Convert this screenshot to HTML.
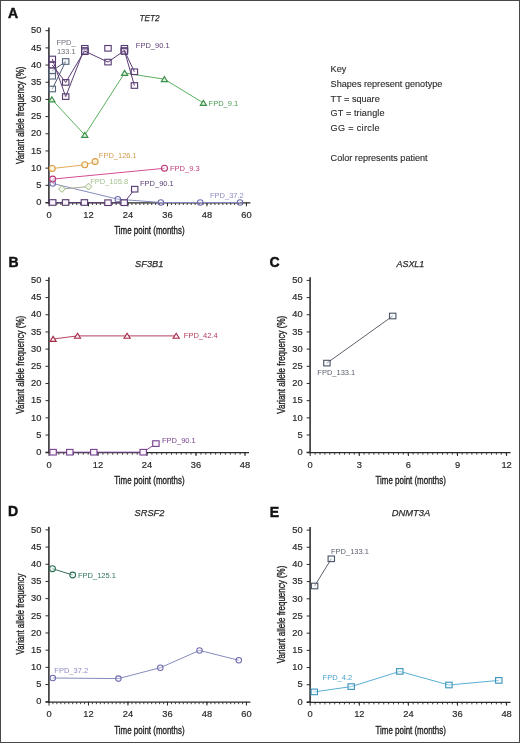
<!DOCTYPE html>
<html><head><meta charset="utf-8"><style>
html,body{margin:0;padding:0;background:#fff;}
body{width:520px;height:743px;overflow:hidden;position:relative;}
.frame{position:absolute;left:0;top:0;width:520px;height:743px;box-sizing:border-box;border-style:solid;border-color:#474747;border-width:1px;}
svg{position:absolute;left:0;top:0;will-change:transform;}
text{font-family:"Liberation Sans", sans-serif;}
.tk{font-size:9.3px;fill:#2a2a2a;stroke:#2a2a2a;stroke-width:0.2px;}
.at{font-size:10.6px;fill:#1e1e1e;stroke:#1e1e1e;stroke-width:0.35px;}
.ti{font-size:9.9px;font-style:italic;fill:#2a2a2a;stroke:#2a2a2a;stroke-width:0.25px;}
.pl{font-size:14px;font-weight:bold;fill:#111;stroke:#111;stroke-width:0.45px;}
.ky{font-size:9.1px;fill:#2a2a2a;stroke:#2a2a2a;stroke-width:0.12px;}
</style></head><body>
<svg width="520" height="743" viewBox="0 0 520 743">
<line x1="48.90" y1="27.50" x2="48.90" y2="203.50" stroke="#333" stroke-width="1.6"/>
<line x1="45.50" y1="202.90" x2="250.40" y2="202.90" stroke="#2b2b2b" stroke-width="1.3"/>
<line x1="45.50" y1="202.50" x2="49.00" y2="202.50" stroke="#2b2b2b" stroke-width="1"/>
<text x="41.40" y="205.20" text-anchor="end" class="tk">0</text>
<line x1="45.50" y1="185.32" x2="49.00" y2="185.32" stroke="#2b2b2b" stroke-width="1"/>
<text x="41.40" y="188.02" text-anchor="end" class="tk">5</text>
<line x1="45.50" y1="168.14" x2="49.00" y2="168.14" stroke="#2b2b2b" stroke-width="1"/>
<text x="41.40" y="170.84" text-anchor="end" class="tk">10</text>
<line x1="45.50" y1="150.96" x2="49.00" y2="150.96" stroke="#2b2b2b" stroke-width="1"/>
<text x="41.40" y="153.66" text-anchor="end" class="tk">15</text>
<line x1="45.50" y1="133.78" x2="49.00" y2="133.78" stroke="#2b2b2b" stroke-width="1"/>
<text x="41.40" y="136.48" text-anchor="end" class="tk">20</text>
<line x1="45.50" y1="116.60" x2="49.00" y2="116.60" stroke="#2b2b2b" stroke-width="1"/>
<text x="41.40" y="119.30" text-anchor="end" class="tk">25</text>
<line x1="45.50" y1="99.42" x2="49.00" y2="99.42" stroke="#2b2b2b" stroke-width="1"/>
<text x="41.40" y="102.12" text-anchor="end" class="tk">30</text>
<line x1="45.50" y1="82.24" x2="49.00" y2="82.24" stroke="#2b2b2b" stroke-width="1"/>
<text x="41.40" y="84.94" text-anchor="end" class="tk">35</text>
<line x1="45.50" y1="65.06" x2="49.00" y2="65.06" stroke="#2b2b2b" stroke-width="1"/>
<text x="41.40" y="67.76" text-anchor="end" class="tk">40</text>
<line x1="45.50" y1="47.88" x2="49.00" y2="47.88" stroke="#2b2b2b" stroke-width="1"/>
<text x="41.40" y="50.58" text-anchor="end" class="tk">45</text>
<line x1="45.50" y1="30.70" x2="49.00" y2="30.70" stroke="#2b2b2b" stroke-width="1"/>
<text x="41.40" y="33.40" text-anchor="end" class="tk">50</text>
<path d="M52.95 203.10v1.9 M56.90 203.10v1.9 M60.85 203.10v1.9 M64.80 203.10v1.9 M68.75 203.10v1.9 M72.70 203.10v1.9 M76.65 203.10v1.9 M80.60 203.10v1.9 M84.55 203.10v1.9 M88.50 203.10v1.9 M92.45 203.10v1.9 M96.40 203.10v1.9 M100.35 203.10v1.9 M104.30 203.10v1.9 M108.25 203.10v1.9 M112.20 203.10v1.9 M116.15 203.10v1.9 M120.10 203.10v1.9 M124.05 203.10v1.9 M128.00 203.10v1.9 M131.95 203.10v1.9 M135.90 203.10v1.9 M139.85 203.10v1.9 M143.80 203.10v1.9 M147.75 203.10v1.9 M151.70 203.10v1.9 M155.65 203.10v1.9 M159.60 203.10v1.9 M163.55 203.10v1.9 M167.50 203.10v1.9 M171.45 203.10v1.9 M175.40 203.10v1.9 M179.35 203.10v1.9 M183.30 203.10v1.9 M187.25 203.10v1.9 M191.20 203.10v1.9 M195.15 203.10v1.9 M199.10 203.10v1.9 M203.05 203.10v1.9 M207.00 203.10v1.9 M210.95 203.10v1.9 M214.90 203.10v1.9 M218.85 203.10v1.9 M222.80 203.10v1.9 M226.75 203.10v1.9 M230.70 203.10v1.9 M234.65 203.10v1.9 M238.60 203.10v1.9 M242.55 203.10v1.9 M246.50 203.10v1.9" stroke="#2b2b2b" stroke-width="0.9"/>
<line x1="49.00" y1="202.50" x2="49.00" y2="206.30" stroke="#2b2b2b" stroke-width="1"/>
<text x="49.00" y="218.00" text-anchor="middle" class="tk">0</text>
<line x1="88.48" y1="202.50" x2="88.48" y2="206.30" stroke="#2b2b2b" stroke-width="1"/>
<text x="88.48" y="218.00" text-anchor="middle" class="tk">12</text>
<line x1="127.96" y1="202.50" x2="127.96" y2="206.30" stroke="#2b2b2b" stroke-width="1"/>
<text x="127.96" y="218.00" text-anchor="middle" class="tk">24</text>
<line x1="167.44" y1="202.50" x2="167.44" y2="206.30" stroke="#2b2b2b" stroke-width="1"/>
<text x="167.44" y="218.00" text-anchor="middle" class="tk">36</text>
<line x1="206.92" y1="202.50" x2="206.92" y2="206.30" stroke="#2b2b2b" stroke-width="1"/>
<text x="206.92" y="218.00" text-anchor="middle" class="tk">48</text>
<line x1="246.40" y1="202.50" x2="246.40" y2="206.30" stroke="#2b2b2b" stroke-width="1"/>
<text x="246.40" y="218.00" text-anchor="middle" class="tk">60</text>
<text x="114.30" y="234.30" class="at" textLength="70.3" lengthAdjust="spacingAndGlyphs">Time point (months)</text>
<text transform="translate(23.80,115.25) rotate(-90)" x="0" y="0" text-anchor="middle" class="at" textLength="97.5" lengthAdjust="spacingAndGlyphs">Variant allele frequency (%)</text>
<text x="149.60" y="21.40" text-anchor="middle" class="ti" textLength="20" lengthAdjust="spacingAndGlyphs">TET2</text>
<text x="7.90" y="18.00" class="pl">A</text>
<polyline points="51.90,99.50 84.80,135.00 124.60,73.00 164.40,79.20 203.40,103.00" fill="none" stroke="#5aae5e" stroke-width="1"/>
<path d="M51.90 96.90L55.00 101.90L48.80 101.90Z" fill="#e2f5e4" stroke="#3a8e48" stroke-width="1.1"/>
<path d="M84.80 132.40L87.90 137.40L81.70 137.40Z" fill="#e2f5e4" stroke="#3a8e48" stroke-width="1.1"/>
<path d="M124.60 70.40L127.70 75.40L121.50 75.40Z" fill="#e2f5e4" stroke="#3a8e48" stroke-width="1.1"/>
<path d="M164.40 76.60L167.50 81.60L161.30 81.60Z" fill="#e2f5e4" stroke="#3a8e48" stroke-width="1.1"/>
<path d="M203.40 100.40L206.50 105.40L200.30 105.40Z" fill="#e2f5e4" stroke="#3a8e48" stroke-width="1.1"/>
<text x="208.60" y="105.50" fill="#4c9a55" font-size="7.5">FPD_9.1</text>
<polyline points="52.30,168.50 84.80,164.80 95.10,161.60" fill="none" stroke="#e3aa55" stroke-width="1"/>
<circle cx="52.30" cy="168.50" r="3.00" fill="#fcf3d9" fill-opacity="1" stroke="#d99a45" stroke-width="1.05"/>
<circle cx="84.80" cy="164.80" r="3.00" fill="#fcf3d9" fill-opacity="1" stroke="#d99a45" stroke-width="1.05"/>
<circle cx="95.10" cy="161.60" r="3.00" fill="#fcf3d9" fill-opacity="1" stroke="#d99a45" stroke-width="1.05"/>
<text x="98.80" y="158.10" fill="#d49a4c" font-size="7.5">FPD_126.1</text>
<polyline points="52.70,183.50 117.80,199.20 160.80,202.50 200.20,202.50 240.00,202.50" fill="none" stroke="#848bbd" stroke-width="1"/>
<polyline points="61.90,189.00 88.50,186.60" fill="none" stroke="#a8ab98" stroke-width="1"/>
<path d="M61.90 185.60L65.30 189.00L61.90 192.40L58.50 189.00Z" fill="#f4f8ee" stroke="#98b87c" stroke-width="1"/>
<path d="M88.50 183.20L91.90 186.60L88.50 190.00L85.10 186.60Z" fill="#f4f8ee" stroke="#98b87c" stroke-width="1"/>
<text x="90.20" y="183.60" fill="#a4bf8e" font-size="7.5">FPD_105.8</text>
<circle cx="52.70" cy="183.50" r="2.75" fill="#f1f1fb" fill-opacity="0.2" stroke="#6e6cae" stroke-width="1.05"/>
<circle cx="117.80" cy="199.20" r="2.75" fill="#f1f1fb" fill-opacity="0.2" stroke="#6e6cae" stroke-width="1.05"/>
<circle cx="160.80" cy="202.50" r="2.75" fill="#f1f1fb" fill-opacity="0.2" stroke="#6e6cae" stroke-width="1.05"/>
<circle cx="200.20" cy="202.50" r="2.75" fill="#f1f1fb" fill-opacity="0.2" stroke="#6e6cae" stroke-width="1.05"/>
<circle cx="240.00" cy="202.50" r="2.75" fill="#f1f1fb" fill-opacity="0.2" stroke="#6e6cae" stroke-width="1.05"/>
<polyline points="52.70,179.10 164.50,168.30" fill="none" stroke="#d24d92" stroke-width="1"/>
<circle cx="52.70" cy="179.10" r="3.00" fill="#fbe6f1" fill-opacity="0.45" stroke="#b73777" stroke-width="1.05"/>
<circle cx="164.50" cy="168.30" r="3.00" fill="#fbe6f1" fill-opacity="0.45" stroke="#b73777" stroke-width="1.05"/>
<text x="170.00" y="170.60" fill="#c23c7e" font-size="7.5">FPD_9.3</text>
<text x="210.00" y="197.60" fill="#8c8cc4" font-size="7.5">FPD_37.2</text>
<polyline points="52.30,70.80 65.70,61.50" fill="none" stroke="#4e5e72" stroke-width="1"/>
<polyline points="52.30,89.00 65.70,61.50" fill="none" stroke="#4e5e72" stroke-width="1"/>
<rect x="49.10" y="73.40" width="6.4" height="5.6" fill="#f0f3f8" fill-opacity="0.45" stroke="#55657a" stroke-width="1.1"/>
<rect x="49.10" y="68.00" width="6.4" height="5.6" fill="#f0f3f8" fill-opacity="0.45" stroke="#55657a" stroke-width="1.1"/>
<rect x="49.10" y="86.20" width="6.4" height="5.6" fill="#f0f3f8" fill-opacity="0.45" stroke="#55657a" stroke-width="1.1"/>
<rect x="62.50" y="58.70" width="6.4" height="5.6" fill="#f0f3f8" fill-opacity="0.45" stroke="#55657a" stroke-width="1.1"/>
<text x="56.50" y="44.80" fill="#6c6e78" font-size="7.5">FPD_</text>
<text x="56.90" y="53.80" fill="#6c6e78" font-size="7.5">133.1</text>
<rect x="49.10" y="62.20" width="6.4" height="5.6" fill="#f8f0fb" fill-opacity="0.45" stroke="#553b6f" stroke-width="1.1"/>
<rect x="49.10" y="56.20" width="6.4" height="5.6" fill="#f8f0fb" fill-opacity="0.45" stroke="#553b6f" stroke-width="1.1"/>
<rect x="62.50" y="93.80" width="6.4" height="5.6" fill="#f8f0fb" fill-opacity="0.45" stroke="#553b6f" stroke-width="1.1"/>
<rect x="62.50" y="79.60" width="6.4" height="5.6" fill="#f8f0fb" fill-opacity="0.45" stroke="#553b6f" stroke-width="1.1"/>
<rect x="81.60" y="45.50" width="6.4" height="5.6" fill="#f8f0fb" fill-opacity="0.45" stroke="#553b6f" stroke-width="1.1"/>
<rect x="81.60" y="47.70" width="6.4" height="5.6" fill="#f8f0fb" fill-opacity="0.45" stroke="#553b6f" stroke-width="1.1"/>
<rect x="81.60" y="48.90" width="6.4" height="5.6" fill="#f8f0fb" fill-opacity="0.45" stroke="#553b6f" stroke-width="1.1"/>
<rect x="104.80" y="45.50" width="6.4" height="5.6" fill="#f8f0fb" fill-opacity="0.45" stroke="#553b6f" stroke-width="1.1"/>
<rect x="104.80" y="59.30" width="6.4" height="5.6" fill="#f8f0fb" fill-opacity="0.45" stroke="#553b6f" stroke-width="1.1"/>
<rect x="121.20" y="45.50" width="6.4" height="5.6" fill="#f8f0fb" fill-opacity="0.45" stroke="#553b6f" stroke-width="1.1"/>
<rect x="121.20" y="47.70" width="6.4" height="5.6" fill="#f8f0fb" fill-opacity="0.45" stroke="#553b6f" stroke-width="1.1"/>
<rect x="121.20" y="48.70" width="6.4" height="5.6" fill="#f8f0fb" fill-opacity="0.45" stroke="#553b6f" stroke-width="1.1"/>
<rect x="131.20" y="68.95" width="6.4" height="5.6" fill="#f8f0fb" fill-opacity="0.45" stroke="#553b6f" stroke-width="1.1"/>
<rect x="131.20" y="82.70" width="6.4" height="5.6" fill="#f8f0fb" fill-opacity="0.45" stroke="#553b6f" stroke-width="1.1"/>
<polyline points="52.30,59.00 65.70,96.60 82.50,53.50" fill="none" stroke="#5a3d74" stroke-width="1"/>
<polyline points="52.30,65.00 65.70,82.40 84.50,51.00 108.00,62.10 124.40,50.50 134.40,85.50" fill="none" stroke="#5a3d74" stroke-width="1"/>
<polyline points="124.40,50.50 134.40,71.75" fill="none" stroke="#5a3d74" stroke-width="1"/>
<text x="135.80" y="48.00" fill="#5a3d74" font-size="7.5">FPD_90.1</text>
<polyline points="52.70,202.50 65.60,202.50 84.40,202.50 108.00,202.70 124.20,202.70 134.70,189.20" fill="none" stroke="#5a3d74" stroke-width="1"/>
<rect x="49.50" y="199.70" width="6.4" height="5.6" fill="#fbf5fd" fill-opacity="1" stroke="#553b6f" stroke-width="1.1"/>
<rect x="62.40" y="199.70" width="6.4" height="5.6" fill="#fbf5fd" fill-opacity="1" stroke="#553b6f" stroke-width="1.1"/>
<rect x="81.20" y="199.70" width="6.4" height="5.6" fill="#fbf5fd" fill-opacity="1" stroke="#553b6f" stroke-width="1.1"/>
<rect x="104.80" y="199.90" width="6.4" height="5.6" fill="#fbf5fd" fill-opacity="1" stroke="#553b6f" stroke-width="1.1"/>
<rect x="121.00" y="199.90" width="6.4" height="5.6" fill="#fbf5fd" fill-opacity="1" stroke="#553b6f" stroke-width="1.1"/>
<rect x="131.50" y="186.40" width="6.4" height="5.6" fill="#fbf5fd" fill-opacity="1" stroke="#553b6f" stroke-width="1.1"/>
<text x="140.00" y="186.20" fill="#5a3d74" font-size="7.5">FPD_90.1</text>
<line x1="48.90" y1="277.20" x2="48.90" y2="453.20" stroke="#333" stroke-width="1.6"/>
<line x1="45.50" y1="452.60" x2="249.00" y2="452.60" stroke="#2b2b2b" stroke-width="1.3"/>
<line x1="45.50" y1="452.20" x2="49.00" y2="452.20" stroke="#2b2b2b" stroke-width="1"/>
<text x="41.40" y="454.90" text-anchor="end" class="tk">0</text>
<line x1="45.50" y1="435.02" x2="49.00" y2="435.02" stroke="#2b2b2b" stroke-width="1"/>
<text x="41.40" y="437.72" text-anchor="end" class="tk">5</text>
<line x1="45.50" y1="417.84" x2="49.00" y2="417.84" stroke="#2b2b2b" stroke-width="1"/>
<text x="41.40" y="420.54" text-anchor="end" class="tk">10</text>
<line x1="45.50" y1="400.66" x2="49.00" y2="400.66" stroke="#2b2b2b" stroke-width="1"/>
<text x="41.40" y="403.36" text-anchor="end" class="tk">15</text>
<line x1="45.50" y1="383.48" x2="49.00" y2="383.48" stroke="#2b2b2b" stroke-width="1"/>
<text x="41.40" y="386.18" text-anchor="end" class="tk">20</text>
<line x1="45.50" y1="366.30" x2="49.00" y2="366.30" stroke="#2b2b2b" stroke-width="1"/>
<text x="41.40" y="369.00" text-anchor="end" class="tk">25</text>
<line x1="45.50" y1="349.12" x2="49.00" y2="349.12" stroke="#2b2b2b" stroke-width="1"/>
<text x="41.40" y="351.82" text-anchor="end" class="tk">30</text>
<line x1="45.50" y1="331.94" x2="49.00" y2="331.94" stroke="#2b2b2b" stroke-width="1"/>
<text x="41.40" y="334.64" text-anchor="end" class="tk">35</text>
<line x1="45.50" y1="314.76" x2="49.00" y2="314.76" stroke="#2b2b2b" stroke-width="1"/>
<text x="41.40" y="317.46" text-anchor="end" class="tk">40</text>
<line x1="45.50" y1="297.58" x2="49.00" y2="297.58" stroke="#2b2b2b" stroke-width="1"/>
<text x="41.40" y="300.28" text-anchor="end" class="tk">45</text>
<line x1="45.50" y1="280.40" x2="49.00" y2="280.40" stroke="#2b2b2b" stroke-width="1"/>
<text x="41.40" y="283.10" text-anchor="end" class="tk">50</text>
<path d="M53.90 452.80v1.9 M58.80 452.80v1.9 M63.70 452.80v1.9 M68.60 452.80v1.9 M73.50 452.80v1.9 M78.40 452.80v1.9 M83.30 452.80v1.9 M88.20 452.80v1.9 M93.10 452.80v1.9 M98.00 452.80v1.9 M102.90 452.80v1.9 M107.80 452.80v1.9 M112.70 452.80v1.9 M117.60 452.80v1.9 M122.50 452.80v1.9 M127.40 452.80v1.9 M132.30 452.80v1.9 M137.20 452.80v1.9 M142.10 452.80v1.9 M147.00 452.80v1.9 M151.90 452.80v1.9 M156.80 452.80v1.9 M161.70 452.80v1.9 M166.60 452.80v1.9 M171.50 452.80v1.9 M176.40 452.80v1.9 M181.30 452.80v1.9 M186.20 452.80v1.9 M191.10 452.80v1.9 M196.00 452.80v1.9 M200.90 452.80v1.9 M205.80 452.80v1.9 M210.70 452.80v1.9 M215.60 452.80v1.9 M220.50 452.80v1.9 M225.40 452.80v1.9 M230.30 452.80v1.9 M235.20 452.80v1.9 M240.10 452.80v1.9 M245.00 452.80v1.9" stroke="#2b2b2b" stroke-width="0.9"/>
<line x1="49.00" y1="452.20" x2="49.00" y2="456.00" stroke="#2b2b2b" stroke-width="1"/>
<text x="49.00" y="467.70" text-anchor="middle" class="tk">0</text>
<line x1="98.00" y1="452.20" x2="98.00" y2="456.00" stroke="#2b2b2b" stroke-width="1"/>
<text x="98.00" y="467.70" text-anchor="middle" class="tk">12</text>
<line x1="147.00" y1="452.20" x2="147.00" y2="456.00" stroke="#2b2b2b" stroke-width="1"/>
<text x="147.00" y="467.70" text-anchor="middle" class="tk">24</text>
<line x1="196.00" y1="452.20" x2="196.00" y2="456.00" stroke="#2b2b2b" stroke-width="1"/>
<text x="196.00" y="467.70" text-anchor="middle" class="tk">36</text>
<line x1="245.00" y1="452.20" x2="245.00" y2="456.00" stroke="#2b2b2b" stroke-width="1"/>
<text x="245.00" y="467.70" text-anchor="middle" class="tk">48</text>
<text x="114.30" y="484.00" class="at" textLength="70.3" lengthAdjust="spacingAndGlyphs">Time point (months)</text>
<text transform="translate(23.90,364.80) rotate(-90)" x="0" y="0" text-anchor="middle" class="at" textLength="98.1" lengthAdjust="spacingAndGlyphs">Variant allele frequency (%)</text>
<text x="149.30" y="267.00" text-anchor="middle" class="ti" textLength="28.4" lengthAdjust="spacingAndGlyphs">SF3B1</text>
<text x="8.40" y="266.80" class="pl">B</text>
<polyline points="53.10,339.00 77.50,335.90 127.10,335.90 176.20,335.90" fill="none" stroke="#b54060" stroke-width="1"/>
<path d="M53.10 336.40L56.20 341.40L50.00 341.40Z" fill="#fdeef2" stroke="#a52a48" stroke-width="1.1"/>
<path d="M77.50 333.30L80.60 338.30L74.40 338.30Z" fill="#fdeef2" stroke="#a52a48" stroke-width="1.1"/>
<path d="M127.10 333.30L130.20 338.30L124.00 338.30Z" fill="#fdeef2" stroke="#a52a48" stroke-width="1.1"/>
<path d="M176.20 333.30L179.30 338.30L173.10 338.30Z" fill="#fdeef2" stroke="#a52a48" stroke-width="1.1"/>
<text x="183.80" y="338.30" fill="#b33a58" font-size="7.5">FPD_42.4</text>
<polyline points="53.10,452.20 69.80,452.20 93.80,452.20 143.20,452.20 155.90,443.60" fill="none" stroke="#7a468e" stroke-width="1"/>
<rect x="49.90" y="449.40" width="6.4" height="5.6" fill="#fbf4fc" fill-opacity="1" stroke="#74408a" stroke-width="1.1"/>
<rect x="66.60" y="449.40" width="6.4" height="5.6" fill="#fbf4fc" fill-opacity="1" stroke="#74408a" stroke-width="1.1"/>
<rect x="90.60" y="449.40" width="6.4" height="5.6" fill="#fbf4fc" fill-opacity="1" stroke="#74408a" stroke-width="1.1"/>
<rect x="140.00" y="449.40" width="6.4" height="5.6" fill="#fbf4fc" fill-opacity="1" stroke="#74408a" stroke-width="1.1"/>
<rect x="152.70" y="440.80" width="6.4" height="5.6" fill="#fbf4fc" fill-opacity="1" stroke="#74408a" stroke-width="1.1"/>
<text x="162.00" y="443.40" fill="#7a4490" font-size="7.5">FPD_90.1</text>
<line x1="310.10" y1="277.20" x2="310.10" y2="453.20" stroke="#333" stroke-width="1.6"/>
<line x1="306.70" y1="452.60" x2="510.60" y2="452.60" stroke="#2b2b2b" stroke-width="1.3"/>
<line x1="306.70" y1="452.20" x2="310.20" y2="452.20" stroke="#2b2b2b" stroke-width="1"/>
<text x="302.60" y="454.90" text-anchor="end" class="tk">0</text>
<line x1="306.70" y1="435.02" x2="310.20" y2="435.02" stroke="#2b2b2b" stroke-width="1"/>
<text x="302.60" y="437.72" text-anchor="end" class="tk">5</text>
<line x1="306.70" y1="417.84" x2="310.20" y2="417.84" stroke="#2b2b2b" stroke-width="1"/>
<text x="302.60" y="420.54" text-anchor="end" class="tk">10</text>
<line x1="306.70" y1="400.66" x2="310.20" y2="400.66" stroke="#2b2b2b" stroke-width="1"/>
<text x="302.60" y="403.36" text-anchor="end" class="tk">15</text>
<line x1="306.70" y1="383.48" x2="310.20" y2="383.48" stroke="#2b2b2b" stroke-width="1"/>
<text x="302.60" y="386.18" text-anchor="end" class="tk">20</text>
<line x1="306.70" y1="366.30" x2="310.20" y2="366.30" stroke="#2b2b2b" stroke-width="1"/>
<text x="302.60" y="369.00" text-anchor="end" class="tk">25</text>
<line x1="306.70" y1="349.12" x2="310.20" y2="349.12" stroke="#2b2b2b" stroke-width="1"/>
<text x="302.60" y="351.82" text-anchor="end" class="tk">30</text>
<line x1="306.70" y1="331.94" x2="310.20" y2="331.94" stroke="#2b2b2b" stroke-width="1"/>
<text x="302.60" y="334.64" text-anchor="end" class="tk">35</text>
<line x1="306.70" y1="314.76" x2="310.20" y2="314.76" stroke="#2b2b2b" stroke-width="1"/>
<text x="302.60" y="317.46" text-anchor="end" class="tk">40</text>
<line x1="306.70" y1="297.58" x2="310.20" y2="297.58" stroke="#2b2b2b" stroke-width="1"/>
<text x="302.60" y="300.28" text-anchor="end" class="tk">45</text>
<line x1="306.70" y1="280.40" x2="310.20" y2="280.40" stroke="#2b2b2b" stroke-width="1"/>
<text x="302.60" y="283.10" text-anchor="end" class="tk">50</text>
<path d="M315.10 452.80v1.9 M320.00 452.80v1.9 M324.90 452.80v1.9 M329.80 452.80v1.9 M334.70 452.80v1.9 M339.60 452.80v1.9 M344.50 452.80v1.9 M349.40 452.80v1.9 M354.30 452.80v1.9 M359.20 452.80v1.9 M364.10 452.80v1.9 M369.00 452.80v1.9 M373.90 452.80v1.9 M378.80 452.80v1.9 M383.70 452.80v1.9 M388.60 452.80v1.9 M393.50 452.80v1.9 M398.40 452.80v1.9 M403.30 452.80v1.9 M408.20 452.80v1.9 M413.10 452.80v1.9 M418.00 452.80v1.9 M422.90 452.80v1.9 M427.80 452.80v1.9 M432.70 452.80v1.9 M437.60 452.80v1.9 M442.50 452.80v1.9 M447.40 452.80v1.9 M452.30 452.80v1.9 M457.20 452.80v1.9 M462.10 452.80v1.9 M467.00 452.80v1.9 M471.90 452.80v1.9 M476.80 452.80v1.9 M481.70 452.80v1.9 M486.60 452.80v1.9 M491.50 452.80v1.9 M496.40 452.80v1.9 M501.30 452.80v1.9 M506.20 452.80v1.9" stroke="#2b2b2b" stroke-width="0.9"/>
<line x1="310.20" y1="452.20" x2="310.20" y2="456.00" stroke="#2b2b2b" stroke-width="1"/>
<text x="310.20" y="467.70" text-anchor="middle" class="tk">0</text>
<line x1="359.30" y1="452.20" x2="359.30" y2="456.00" stroke="#2b2b2b" stroke-width="1"/>
<text x="359.30" y="467.70" text-anchor="middle" class="tk">3</text>
<line x1="408.40" y1="452.20" x2="408.40" y2="456.00" stroke="#2b2b2b" stroke-width="1"/>
<text x="408.40" y="467.70" text-anchor="middle" class="tk">6</text>
<line x1="457.50" y1="452.20" x2="457.50" y2="456.00" stroke="#2b2b2b" stroke-width="1"/>
<text x="457.50" y="467.70" text-anchor="middle" class="tk">9</text>
<line x1="506.60" y1="452.20" x2="506.60" y2="456.00" stroke="#2b2b2b" stroke-width="1"/>
<text x="506.60" y="467.70" text-anchor="middle" class="tk">12</text>
<text x="375.50" y="484.00" class="at" textLength="70.3" lengthAdjust="spacingAndGlyphs">Time point (months)</text>
<text transform="translate(285.00,364.80) rotate(-90)" x="0" y="0" text-anchor="middle" class="at" textLength="98.0" lengthAdjust="spacingAndGlyphs">Variant allele frequency (%)</text>
<text x="410.40" y="267.00" text-anchor="middle" class="ti" textLength="27.9" lengthAdjust="spacingAndGlyphs">ASXL1</text>
<text x="269.40" y="267.00" class="pl">C</text>
<polyline points="326.90,363.10 392.70,316.00" fill="none" stroke="#5c616c" stroke-width="1"/>
<rect x="323.70" y="360.30" width="6.4" height="5.6" fill="#f2f4f7" fill-opacity="0.45" stroke="#4a5466" stroke-width="1.1"/>
<rect x="389.50" y="313.20" width="6.4" height="5.6" fill="#f2f4f7" fill-opacity="0.45" stroke="#4a5466" stroke-width="1.1"/>
<text x="317.30" y="374.60" fill="#5a6170" font-size="7.5">FPD_133.1</text>
<line x1="48.90" y1="526.70" x2="48.90" y2="702.70" stroke="#333" stroke-width="1.6"/>
<line x1="45.50" y1="702.10" x2="250.40" y2="702.10" stroke="#2b2b2b" stroke-width="1.3"/>
<line x1="45.50" y1="701.70" x2="49.00" y2="701.70" stroke="#2b2b2b" stroke-width="1"/>
<text x="41.40" y="704.40" text-anchor="end" class="tk">0</text>
<line x1="45.50" y1="684.52" x2="49.00" y2="684.52" stroke="#2b2b2b" stroke-width="1"/>
<text x="41.40" y="687.22" text-anchor="end" class="tk">5</text>
<line x1="45.50" y1="667.34" x2="49.00" y2="667.34" stroke="#2b2b2b" stroke-width="1"/>
<text x="41.40" y="670.04" text-anchor="end" class="tk">10</text>
<line x1="45.50" y1="650.16" x2="49.00" y2="650.16" stroke="#2b2b2b" stroke-width="1"/>
<text x="41.40" y="652.86" text-anchor="end" class="tk">15</text>
<line x1="45.50" y1="632.98" x2="49.00" y2="632.98" stroke="#2b2b2b" stroke-width="1"/>
<text x="41.40" y="635.68" text-anchor="end" class="tk">20</text>
<line x1="45.50" y1="615.80" x2="49.00" y2="615.80" stroke="#2b2b2b" stroke-width="1"/>
<text x="41.40" y="618.50" text-anchor="end" class="tk">25</text>
<line x1="45.50" y1="598.62" x2="49.00" y2="598.62" stroke="#2b2b2b" stroke-width="1"/>
<text x="41.40" y="601.32" text-anchor="end" class="tk">30</text>
<line x1="45.50" y1="581.44" x2="49.00" y2="581.44" stroke="#2b2b2b" stroke-width="1"/>
<text x="41.40" y="584.14" text-anchor="end" class="tk">35</text>
<line x1="45.50" y1="564.26" x2="49.00" y2="564.26" stroke="#2b2b2b" stroke-width="1"/>
<text x="41.40" y="566.96" text-anchor="end" class="tk">40</text>
<line x1="45.50" y1="547.08" x2="49.00" y2="547.08" stroke="#2b2b2b" stroke-width="1"/>
<text x="41.40" y="549.78" text-anchor="end" class="tk">45</text>
<line x1="45.50" y1="529.90" x2="49.00" y2="529.90" stroke="#2b2b2b" stroke-width="1"/>
<text x="41.40" y="532.60" text-anchor="end" class="tk">50</text>
<path d="M52.95 702.30v1.9 M56.90 702.30v1.9 M60.85 702.30v1.9 M64.80 702.30v1.9 M68.75 702.30v1.9 M72.70 702.30v1.9 M76.65 702.30v1.9 M80.60 702.30v1.9 M84.55 702.30v1.9 M88.50 702.30v1.9 M92.45 702.30v1.9 M96.40 702.30v1.9 M100.35 702.30v1.9 M104.30 702.30v1.9 M108.25 702.30v1.9 M112.20 702.30v1.9 M116.15 702.30v1.9 M120.10 702.30v1.9 M124.05 702.30v1.9 M128.00 702.30v1.9 M131.95 702.30v1.9 M135.90 702.30v1.9 M139.85 702.30v1.9 M143.80 702.30v1.9 M147.75 702.30v1.9 M151.70 702.30v1.9 M155.65 702.30v1.9 M159.60 702.30v1.9 M163.55 702.30v1.9 M167.50 702.30v1.9 M171.45 702.30v1.9 M175.40 702.30v1.9 M179.35 702.30v1.9 M183.30 702.30v1.9 M187.25 702.30v1.9 M191.20 702.30v1.9 M195.15 702.30v1.9 M199.10 702.30v1.9 M203.05 702.30v1.9 M207.00 702.30v1.9 M210.95 702.30v1.9 M214.90 702.30v1.9 M218.85 702.30v1.9 M222.80 702.30v1.9 M226.75 702.30v1.9 M230.70 702.30v1.9 M234.65 702.30v1.9 M238.60 702.30v1.9 M242.55 702.30v1.9 M246.50 702.30v1.9" stroke="#2b2b2b" stroke-width="0.9"/>
<line x1="49.00" y1="701.70" x2="49.00" y2="705.50" stroke="#2b2b2b" stroke-width="1"/>
<text x="49.00" y="717.20" text-anchor="middle" class="tk">0</text>
<line x1="88.48" y1="701.70" x2="88.48" y2="705.50" stroke="#2b2b2b" stroke-width="1"/>
<text x="88.48" y="717.20" text-anchor="middle" class="tk">12</text>
<line x1="127.96" y1="701.70" x2="127.96" y2="705.50" stroke="#2b2b2b" stroke-width="1"/>
<text x="127.96" y="717.20" text-anchor="middle" class="tk">24</text>
<line x1="167.44" y1="701.70" x2="167.44" y2="705.50" stroke="#2b2b2b" stroke-width="1"/>
<text x="167.44" y="717.20" text-anchor="middle" class="tk">36</text>
<line x1="206.92" y1="701.70" x2="206.92" y2="705.50" stroke="#2b2b2b" stroke-width="1"/>
<text x="206.92" y="717.20" text-anchor="middle" class="tk">48</text>
<line x1="246.40" y1="701.70" x2="246.40" y2="705.50" stroke="#2b2b2b" stroke-width="1"/>
<text x="246.40" y="717.20" text-anchor="middle" class="tk">60</text>
<text x="114.30" y="733.50" class="at" textLength="70.3" lengthAdjust="spacingAndGlyphs">Time point (months)</text>
<text transform="translate(23.90,614.00) rotate(-90)" x="0" y="0" text-anchor="middle" class="at" textLength="80.8" lengthAdjust="spacingAndGlyphs">Variant allele frequency</text>
<text x="149.50" y="516.30" text-anchor="middle" class="ti" textLength="29.8" lengthAdjust="spacingAndGlyphs">SRSF2</text>
<text x="7.90" y="516.20" class="pl">D</text>
<polyline points="52.50,568.70 72.70,575.00" fill="none" stroke="#3b6b5b" stroke-width="1"/>
<circle cx="52.50" cy="568.70" r="2.90" fill="#e4f5ee" fill-opacity="0.45" stroke="#2b6e52" stroke-width="1.05"/>
<circle cx="72.70" cy="575.00" r="2.90" fill="#e4f5ee" fill-opacity="0.45" stroke="#2b6e52" stroke-width="1.05"/>
<text x="78.00" y="577.60" fill="#2e7556" font-size="7.5">FPD_125.1</text>
<polyline points="52.80,678.00 118.40,678.60 160.30,667.70 199.50,650.40 238.80,660.30" fill="none" stroke="#848bbd" stroke-width="1"/>
<circle cx="52.80" cy="678.00" r="2.75" fill="#f1f1fb" fill-opacity="0.2" stroke="#6e6cae" stroke-width="1.05"/>
<circle cx="118.40" cy="678.60" r="2.75" fill="#f1f1fb" fill-opacity="0.2" stroke="#6e6cae" stroke-width="1.05"/>
<circle cx="160.30" cy="667.70" r="2.75" fill="#f1f1fb" fill-opacity="0.2" stroke="#6e6cae" stroke-width="1.05"/>
<circle cx="199.50" cy="650.40" r="2.75" fill="#f1f1fb" fill-opacity="0.2" stroke="#6e6cae" stroke-width="1.05"/>
<circle cx="238.80" cy="660.30" r="2.75" fill="#f1f1fb" fill-opacity="0.2" stroke="#6e6cae" stroke-width="1.05"/>
<text x="54.30" y="672.80" fill="#8c8cc4" font-size="7.5">FPD_37.2</text>
<line x1="310.10" y1="526.90" x2="310.10" y2="702.90" stroke="#333" stroke-width="1.6"/>
<line x1="306.70" y1="702.30" x2="510.60" y2="702.30" stroke="#2b2b2b" stroke-width="1.3"/>
<line x1="306.70" y1="701.90" x2="310.20" y2="701.90" stroke="#2b2b2b" stroke-width="1"/>
<text x="302.60" y="704.60" text-anchor="end" class="tk">0</text>
<line x1="306.70" y1="684.72" x2="310.20" y2="684.72" stroke="#2b2b2b" stroke-width="1"/>
<text x="302.60" y="687.42" text-anchor="end" class="tk">5</text>
<line x1="306.70" y1="667.54" x2="310.20" y2="667.54" stroke="#2b2b2b" stroke-width="1"/>
<text x="302.60" y="670.24" text-anchor="end" class="tk">10</text>
<line x1="306.70" y1="650.36" x2="310.20" y2="650.36" stroke="#2b2b2b" stroke-width="1"/>
<text x="302.60" y="653.06" text-anchor="end" class="tk">15</text>
<line x1="306.70" y1="633.18" x2="310.20" y2="633.18" stroke="#2b2b2b" stroke-width="1"/>
<text x="302.60" y="635.88" text-anchor="end" class="tk">20</text>
<line x1="306.70" y1="616.00" x2="310.20" y2="616.00" stroke="#2b2b2b" stroke-width="1"/>
<text x="302.60" y="618.70" text-anchor="end" class="tk">25</text>
<line x1="306.70" y1="598.82" x2="310.20" y2="598.82" stroke="#2b2b2b" stroke-width="1"/>
<text x="302.60" y="601.52" text-anchor="end" class="tk">30</text>
<line x1="306.70" y1="581.64" x2="310.20" y2="581.64" stroke="#2b2b2b" stroke-width="1"/>
<text x="302.60" y="584.34" text-anchor="end" class="tk">35</text>
<line x1="306.70" y1="564.46" x2="310.20" y2="564.46" stroke="#2b2b2b" stroke-width="1"/>
<text x="302.60" y="567.16" text-anchor="end" class="tk">40</text>
<line x1="306.70" y1="547.28" x2="310.20" y2="547.28" stroke="#2b2b2b" stroke-width="1"/>
<text x="302.60" y="549.98" text-anchor="end" class="tk">45</text>
<line x1="306.70" y1="530.10" x2="310.20" y2="530.10" stroke="#2b2b2b" stroke-width="1"/>
<text x="302.60" y="532.80" text-anchor="end" class="tk">50</text>
<path d="M315.10 702.50v1.9 M320.00 702.50v1.9 M324.90 702.50v1.9 M329.80 702.50v1.9 M334.70 702.50v1.9 M339.60 702.50v1.9 M344.50 702.50v1.9 M349.40 702.50v1.9 M354.30 702.50v1.9 M359.20 702.50v1.9 M364.10 702.50v1.9 M369.00 702.50v1.9 M373.90 702.50v1.9 M378.80 702.50v1.9 M383.70 702.50v1.9 M388.60 702.50v1.9 M393.50 702.50v1.9 M398.40 702.50v1.9 M403.30 702.50v1.9 M408.20 702.50v1.9 M413.10 702.50v1.9 M418.00 702.50v1.9 M422.90 702.50v1.9 M427.80 702.50v1.9 M432.70 702.50v1.9 M437.60 702.50v1.9 M442.50 702.50v1.9 M447.40 702.50v1.9 M452.30 702.50v1.9 M457.20 702.50v1.9 M462.10 702.50v1.9 M467.00 702.50v1.9 M471.90 702.50v1.9 M476.80 702.50v1.9 M481.70 702.50v1.9 M486.60 702.50v1.9 M491.50 702.50v1.9 M496.40 702.50v1.9 M501.30 702.50v1.9 M506.20 702.50v1.9" stroke="#2b2b2b" stroke-width="0.9"/>
<line x1="310.20" y1="701.90" x2="310.20" y2="705.70" stroke="#2b2b2b" stroke-width="1"/>
<text x="310.20" y="717.40" text-anchor="middle" class="tk">0</text>
<line x1="359.30" y1="701.90" x2="359.30" y2="705.70" stroke="#2b2b2b" stroke-width="1"/>
<text x="359.30" y="717.40" text-anchor="middle" class="tk">12</text>
<line x1="408.40" y1="701.90" x2="408.40" y2="705.70" stroke="#2b2b2b" stroke-width="1"/>
<text x="408.40" y="717.40" text-anchor="middle" class="tk">24</text>
<line x1="457.50" y1="701.90" x2="457.50" y2="705.70" stroke="#2b2b2b" stroke-width="1"/>
<text x="457.50" y="717.40" text-anchor="middle" class="tk">36</text>
<line x1="506.60" y1="701.90" x2="506.60" y2="705.70" stroke="#2b2b2b" stroke-width="1"/>
<text x="506.60" y="717.40" text-anchor="middle" class="tk">48</text>
<text x="375.50" y="733.70" class="at" textLength="70.3" lengthAdjust="spacingAndGlyphs">Time point (months)</text>
<text transform="translate(285.00,614.40) rotate(-90)" x="0" y="0" text-anchor="middle" class="at" textLength="97.5" lengthAdjust="spacingAndGlyphs">Variant allele frequency (%)</text>
<text x="411.00" y="516.30" text-anchor="middle" class="ti" textLength="38.5" lengthAdjust="spacingAndGlyphs">DNMT3A</text>
<text x="269.80" y="516.50" class="pl">E</text>
<polyline points="314.60,586.00 331.30,558.80" fill="none" stroke="#5c616c" stroke-width="1"/>
<rect x="311.40" y="583.20" width="6.4" height="5.6" fill="#f2f4f7" fill-opacity="0.45" stroke="#4a5466" stroke-width="1.1"/>
<rect x="328.10" y="556.00" width="6.4" height="5.6" fill="#f2f4f7" fill-opacity="0.45" stroke="#4a5466" stroke-width="1.1"/>
<text x="331.00" y="553.80" fill="#5a6170" font-size="7.5">FPD_133.1</text>
<polyline points="314.30,691.90 351.20,686.60 399.80,671.40 448.90,685.00 498.80,680.40" fill="none" stroke="#58afd2" stroke-width="1"/>
<rect x="311.10" y="689.10" width="6.4" height="5.6" fill="#e6f7fc" fill-opacity="0.45" stroke="#3f93ba" stroke-width="1.1"/>
<rect x="348.00" y="683.80" width="6.4" height="5.6" fill="#e6f7fc" fill-opacity="0.45" stroke="#3f93ba" stroke-width="1.1"/>
<rect x="396.60" y="668.60" width="6.4" height="5.6" fill="#e6f7fc" fill-opacity="0.45" stroke="#3f93ba" stroke-width="1.1"/>
<rect x="445.70" y="682.20" width="6.4" height="5.6" fill="#e6f7fc" fill-opacity="0.45" stroke="#3f93ba" stroke-width="1.1"/>
<rect x="495.60" y="677.60" width="6.4" height="5.6" fill="#e6f7fc" fill-opacity="0.45" stroke="#3f93ba" stroke-width="1.1"/>
<text x="322.60" y="680.20" fill="#4aa4cc" font-size="7.5">FPD_4.2</text>
<text x="330.6" y="72.2" class="ky">Key</text>
<text x="330.6" y="87.1" class="ky">Shapes represent genotype</text>
<text x="330.6" y="101.6" class="ky" textLength="49.1" lengthAdjust="spacing">TT = square</text>
<text x="330.6" y="116.3" class="ky" textLength="53.9" lengthAdjust="spacing">GT = triangle</text>
<text x="330.6" y="131.0" class="ky" textLength="49.0" lengthAdjust="spacing">GG = circle</text>
<text x="330.6" y="161.4" class="ky">Color represents patient</text>
</svg>
<div class="frame"></div>
</body></html>
